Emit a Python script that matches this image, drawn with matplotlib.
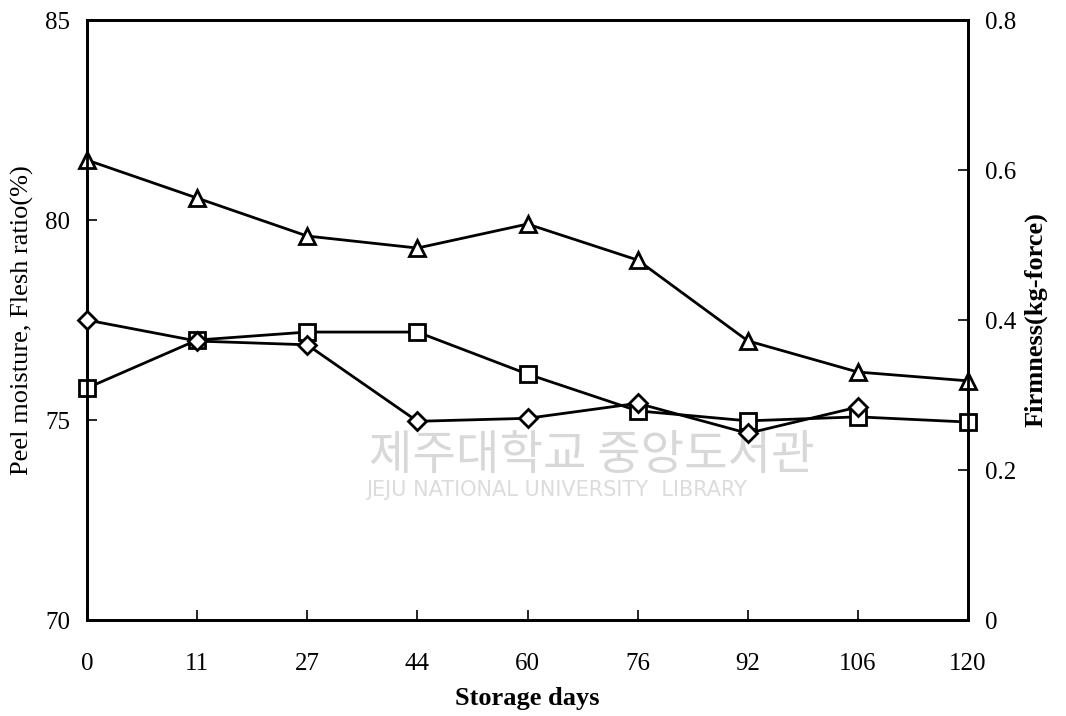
import matplotlib.pyplot as plt

days = ['0', '11', '27', '44', '60', '76', '92', '106', '120']
peel_moisture = [81.5, 80.55, 79.6, 79.3, 79.9, 79.0, 76.98, 76.2, 75.98]
flesh_ratio = [75.8, 77.0, 77.2, 77.2, 76.15, 75.23, 74.98, 75.08, 74.95]
firmness = [0.40, 0.372, 0.367, 0.265, 0.269, 0.289, 0.249, 0.284]  # no reading at day 120

plt.rcParams['font.family'] = ['Liberation Serif', 'DejaVu Serif']

fig = plt.figure(figsize=(10.66, 7.16), dpi=100)
ax = fig.add_axes([0.0816, 0.134, 0.8265, 0.838])
ax2 = ax.twinx()

x = list(range(len(days)))
style = dict(color='black', linewidth=2, markerfacecolor='white',
             markeredgewidth=2, clip_on=False, zorder=5)
ax.plot(x, peel_moisture, marker='^', markersize=11, **style)
ax.plot(x, flesh_ratio, marker='s', markersize=11, **style)
ax2.plot(x[:len(firmness)], firmness, marker='D', markersize=9, **style)

ax.set_xlim(0, 8)
ax.set_ylim(70, 85)
ax.set_yticks([70, 75, 80, 85])
ax2.set_ylim(0, 0.8)
ax2.set_yticks([0, 0.2, 0.4, 0.6, 0.8])
ax2.set_yticklabels(['0', '0.2', '0.4', '0.6', '0.8'])
ax.set_xticks(x)
ax.set_xticklabels(days)

for a in (ax, ax2):
    a.tick_params(direction='in', length=7, width=1.2, labelsize=18, pad=12)
    for s in a.spines.values():
        s.set_linewidth(2)
ax.tick_params(axis='x', pad=24)

ax.set_xlabel('Storage days', fontsize=19, fontweight='bold', labelpad=8)
ax.set_ylabel('Peel moisture, Flesh ratio(%)', fontsize=19, labelpad=8)
ax2.set_ylabel('Firmness(kg-force)', fontsize=19, fontweight='bold', labelpad=6)

# faint library watermark, behind the data
ax.text(0.555, 0.364, '제주대학교 중앙도서관', fontsize=34, color='#d8d8d8',
        family=['Noto Sans CJK KR'], ha='center', va='center', zorder=1,
        transform=fig.transFigure)
ax.text(0.522, 0.316, 'JEJU NATIONAL UNIVERSITY  LIBRARY', fontsize=15,
        color='#dcdcdc', family=['DejaVu Sans'], ha='center', va='center',
        zorder=1, transform=fig.transFigure)

fig.savefig('out.png', dpi=100)
